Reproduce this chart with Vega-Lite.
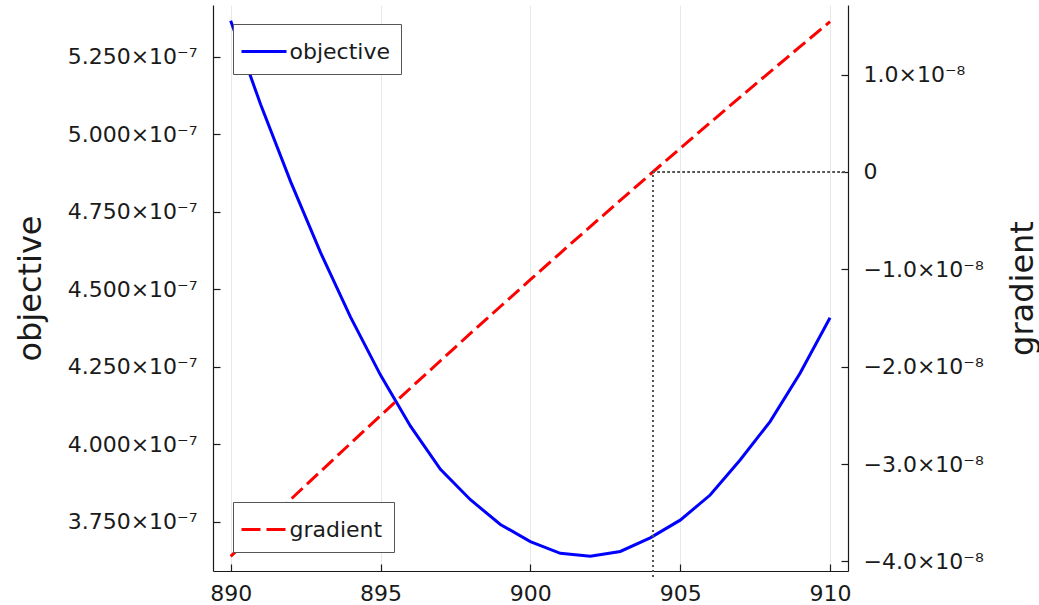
{
  "$schema": "https://vega.github.io/schema/vega-lite/v6.json",
  "width": 635,
  "height": 566,
  "autosize": {"type": "none"},
  "padding": {"left": 213, "top": 5, "right": 191, "bottom": 34},
  "background": "white",
  "config": {
    "font": "DejaVu Sans",
    "view": {"stroke": null},
    "axis": {
      "labelFont": "DejaVu Sans",
      "titleFont": "DejaVu Sans",
      "labelFontSize": 22,
      "labelColor": "#1a1a1a",
      "titleColor": "#1a1a1a",
      "titleFontWeight": "normal",
      "domainColor": "#1a1a1a",
      "tickColor": "#1a1a1a",
      "domainWidth": 1.2,
      "tickWidth": 1.2
    }
  },
  "data": {
    "values": [
      {"x": 890, "objective": 5.366e-7, "gradient": -3.947e-8},
      {"x": 891, "objective": 5.096e-7, "gradient": -3.654e-8},
      {"x": 892, "objective": 4.847e-7, "gradient": -3.364e-8},
      {"x": 893, "objective": 4.618e-7, "gradient": -3.075e-8},
      {"x": 894, "objective": 4.410e-7, "gradient": -2.788e-8},
      {"x": 895, "objective": 4.223e-7, "gradient": -2.503e-8},
      {"x": 896, "objective": 4.058e-7, "gradient": -2.220e-8},
      {"x": 897, "objective": 3.919e-7, "gradient": -1.939e-8},
      {"x": 898, "objective": 3.821e-7, "gradient": -1.659e-8},
      {"x": 899, "objective": 3.741e-7, "gradient": -1.382e-8},
      {"x": 900, "objective": 3.686e-7, "gradient": -1.107e-8},
      {"x": 901, "objective": 3.648e-7, "gradient": -0.833e-8},
      {"x": 902, "objective": 3.639e-7, "gradient": -0.562e-8},
      {"x": 903, "objective": 3.654e-7, "gradient": -0.292e-8},
      {"x": 904, "objective": 3.698e-7, "gradient": -0.024e-8},
      {"x": 905, "objective": 3.755e-7, "gradient": 0.242e-8},
      {"x": 906, "objective": 3.836e-7, "gradient": 0.506e-8},
      {"x": 907, "objective": 3.949e-7, "gradient": 0.768e-8},
      {"x": 908, "objective": 4.073e-7, "gradient": 1.028e-8},
      {"x": 909, "objective": 4.229e-7, "gradient": 1.286e-8},
      {"x": 910, "objective": 4.408e-7, "gradient": 1.543e-8}
    ]
  },
  "layer": [
    {
      "mark": {"type": "line", "strokeWidth": 3, "clip": false},
      "encoding": {
        "x": {
          "field": "x", "type": "quantitative",
          "scale": {"domain": [889.41, 910.6], "nice": false, "zero": false},
          "axis": {
            "values": [890, 895, 900, 905, 910], "title": null,
            "grid": true, "gridColor": "#e8e8e8", "gridWidth": 1,
            "tickSize": -7, "labelPadding": 19, "format": "d"
          }
        },
        "y": {
          "field": "objective", "type": "quantitative",
          "scale": {"domain": [3.591e-7, 5.4168e-7], "nice": false, "zero": false},
          "axis": {
            "orient": "left",
            "values": [3.75e-7, 4.0e-7, 4.25e-7, 4.5e-7, 4.75e-7, 5.0e-7, 5.25e-7],
            "labelExpr": "format(datum.value / 1e-7, '.3f') + '×10⁻⁷'",
            "grid": false, "tickSize": -7, "labelPadding": 23,
            "title": "objective", "titleFontSize": 32,
            "titleX": -183, "titleY": 283, "titleAngle": 270,
            "titleAlign": "center", "titleBaseline": "middle"
          }
        },
        "color": {
          "datum": "objective",
          "scale": {"domain": ["objective"], "range": ["#0000ff"]},
          "legend": {
            "orient": "none", "legendX": 20, "legendY": 19, "title": null,
            "symbolType": "M-1.5,0H1.5", "symbolSize": 900, "symbolStrokeWidth": 3,
            "labelFontSize": 22, "labelColor": "#1a1a1a", "labelFont": "DejaVu Sans",
            "strokeColor": "#555555", "fillColor": "white", "padding": 11,
            "symbolOffset": 3.5, "labelOffset": 9, "cornerRadius": 0
          }
        }
      }
    },
    {
      "layer": [
        {
          "mark": {"type": "line", "strokeWidth": 3, "strokeDash": [15, 6], "clip": false},
          "encoding": {
            "x": {"field": "x", "type": "quantitative"},
            "y": {
              "field": "gradient", "type": "quantitative",
              "scale": {"domain": [-4.098e-8, 1.714e-8], "nice": false, "zero": false},
              "axis": {
                "orient": "right",
                "values": [-4e-8, -3e-8, -2e-8, -1e-8, 0, 1e-8],
                "labelExpr": "datum.value == 0 ? '0' : (datum.value < 0 ? '−' : '') + format(abs(datum.value) / 1e-8, '.1f') + '×10⁻⁸'",
                "grid": false, "tickSize": -7, "labelPadding": 22,
                "title": "gradient", "titleFontSize": 32,
                "titleX": 174, "titleY": 283, "titleAngle": 270,
                "titleAlign": "center", "titleBaseline": "middle"
              }
            },
            "color": {
              "datum": "gradient",
              "scale": {"domain": ["gradient"], "range": ["#ff0000"]},
              "legend": {
                "orient": "none", "legendX": 20, "legendY": 497, "title": null,
                "symbolType": "M-1.5,0H1.5", "symbolSize": 900, "symbolStrokeWidth": 3,
                "symbolDash": [19, 6],
                "labelFontSize": 22, "labelColor": "#1a1a1a", "labelFont": "DejaVu Sans",
                "strokeColor": "#555555", "fillColor": "white", "padding": 11,
                "symbolOffset": 3.5, "labelOffset": 9, "cornerRadius": 0
              }
            }
          }
        },
        {
          "mark": {"type": "rule", "color": "#555555", "strokeDash": [2, 3], "strokeWidth": 1.5, "clip": false},
          "encoding": {
            "x": {"datum": 904.09, "type": "quantitative"},
            "y": {"datum": -4.16e-8, "type": "quantitative"},
            "y2": {"datum": 0}
          }
        },
        {
          "mark": {"type": "rule", "color": "#555555", "strokeDash": [2, 3], "strokeWidth": 1.5, "clip": false},
          "encoding": {
            "x": {"datum": 904.09, "type": "quantitative"},
            "x2": {"datum": 910.55},
            "y": {"datum": 0, "type": "quantitative"}
          }
        }
      ]
    }
  ],
  "resolve": {"scale": {"y": "independent", "color": "independent"}}
}
